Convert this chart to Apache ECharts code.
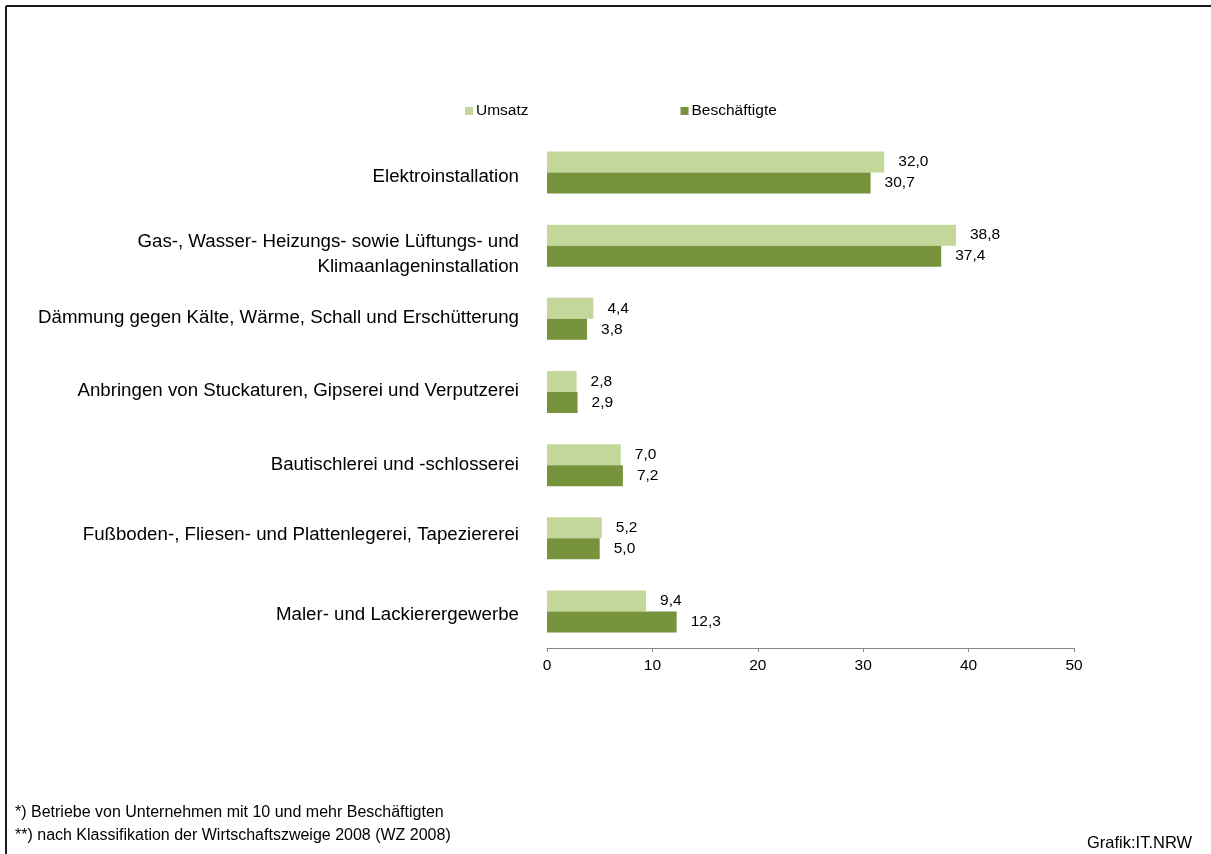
<!DOCTYPE html>
<html>
<head>
<meta charset="utf-8">
<script src="https://cdn.jsdelivr.net/npm/echarts@6/dist/echarts.min.js"></script>
<style>
html,body{margin:0;padding:0;background:#fff;}
#c{width:1211px;height:854px;}
</style>
</head>
<body>
<div id="c"></div>
<script>
const categories = [
  'Elektroinstallation',
  'Gas-, Wasser- Heizungs- sowie Lüftungs- und\nKlimaanlageninstallation',
  'Dämmung gegen Kälte, Wärme, Schall und Erschütterung',
  'Anbringen von Stuckaturen, Gipserei und Verputzerei',
  'Bautischlerei und -schlosserei',
  'Fußboden-, Fliesen- und Plattenlegerei, Tapeziererei',
  'Maler- und Lackierergewerbe'
];
const umsatz = [32.0, 38.8, 4.4, 2.8, 7.0, 5.2, 9.4];
const beschaeftigte = [30.7, 37.4, 3.8, 2.9, 7.2, 5.0, 12.3];
const seriesNames = ['Umsatz', 'Beschäftigte'];
const footnotes = [
  '*) Betriebe von Unternehmen mit 10 und mehr Beschäftigten',
  '**) nach Klassifikation der Wirtschaftszweige 2008 (WZ 2008)'
];
const sourceText = 'Grafik:IT.NRW';

const FONT = '"Liberation Sans", Arial, sans-serif';
const fmt = p => p.value.toFixed(1).replace('.', ',');

// vertical nudges (px) of the category label text, as placed in the original layout
const labelShift = [4, 9, -1, -1, 0, -3, 3];
const rich = {};
labelShift.forEach((s, i) => {
  rich['s' + i] = {
    fontFamily: FONT, fontSize: 18.7, color: '#000', lineHeight: 25,
    padding: s >= 0 ? [2 * s, 0, 0, 0] : [0, 0, -2 * s, 0]
  };
});
const catFormatter = (v, i) => v.split('\n').map(s => '{s' + i + '|' + s + '}').join('\n');

const chart = echarts.init(document.getElementById('c'), null, {renderer: 'canvas'});
chart.setOption({
  animation: false,
  backgroundColor: '#ffffff',
  textStyle: {fontFamily: FONT},
  legend: {
    data: seriesNames,
    left: 460,
    top: 98,
    icon: 'rect',
    itemWidth: 8,
    itemHeight: 8,
    itemGap: 152,
    textStyle: {fontFamily: FONT, fontSize: 15.5, color: '#000', padding: [0,0,0,-2]}
  },
  grid: {left: 547, right: 137, top: 136, bottom: 206},
  xAxis: {
    type: 'value',
    min: 0, max: 50, interval: 10,
    axisLine: {show: true, lineStyle: {color: '#868686', width: 1}},
    axisTick: {show: true, length: 4, lineStyle: {color: '#868686'}},
    splitLine: {show: false},
    axisLabel: {fontFamily: FONT, fontSize: 15.5, color: '#000', margin: 10}
  },
  yAxis: {
    type: 'category',
    data: categories,
    inverse: true,
    axisLine: {show: false},
    axisTick: {show: false},
    axisLabel: {
      fontFamily: FONT, fontSize: 18.7, color: '#000', margin: 28, align: 'right',
      formatter: catFormatter,
      rich: rich
    }
  },
  series: [
    {
      name: seriesNames[0], type: 'bar', data: umsatz,
      barWidth: 21, barGap: '0%',
      itemStyle: {color: '#c4d79b'},
      label: {show: true, position: 'right', distance: 14, formatter: fmt, fontFamily: FONT, fontSize: 15.5, color: '#000'}
    },
    {
      name: seriesNames[1], type: 'bar', data: beschaeftigte,
      barWidth: 21, barGap: '0%',
      itemStyle: {color: '#77933c'},
      label: {show: true, position: 'right', distance: 14, formatter: fmt, fontFamily: FONT, fontSize: 15.5, color: '#000'}
    }
  ],
  graphic: [
    {type: 'line', shape: {x1: 6, y1: 6, x2: 1211, y2: 6}, style: {stroke: '#1a1a1a', lineWidth: 2}},
    {type: 'line', shape: {x1: 6, y1: 6, x2: 6, y2: 854}, style: {stroke: '#1a1a1a', lineWidth: 2}},
    {type: 'text', left: 15, top: 805, style: {text: footnotes[0], font: '16px ' + FONT, fill: '#000'}},
    {type: 'text', left: 15, top: 828, style: {text: footnotes[1], font: '16px ' + FONT, fill: '#000'}},
    {type: 'text', left: 1087, top: 835, style: {text: sourceText, font: '16.5px ' + FONT, fill: '#000'}}
  ]
});
</script>
</body>
</html>
